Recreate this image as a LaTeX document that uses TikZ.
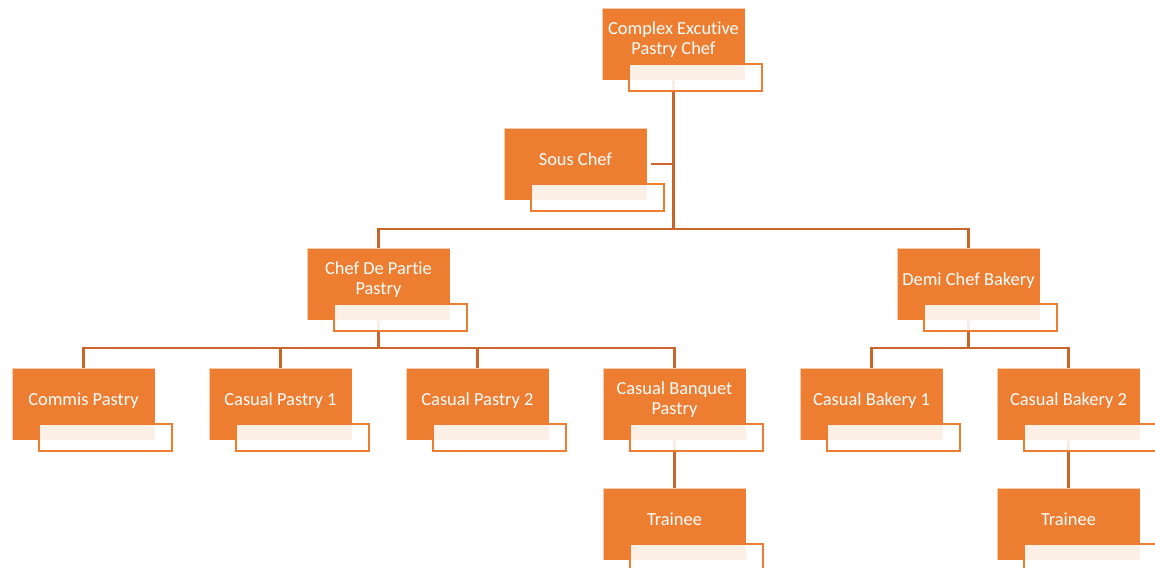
\documentclass[tikz,border=0pt]{standalone}
\usepackage{fontspec}
\setmainfont{Carlito}[Ligatures=NoCommon]
\usepackage{tikz}
\usetikzlibrary{positioning,backgrounds}

\definecolor{boxorange}{RGB}{237,125,49}
\definecolor{linkorange}{RGB}{200,101,42}

\newcommand{\namebox}[1]{\draw[namebox] ([xshift=20.25pt,yshift=12pt]#1.south west) rectangle ([xshift=120pt,yshift=-8.25pt]#1.south west);}

\begin{document}
\begin{tikzpicture}[
	post/.style = {draw=white, draw opacity=0.6, line width=0.5pt, fill=boxorange, shape=rectangle,
		minimum width=107.25pt, minimum height=54pt, inner sep=2pt, outer sep=0pt, align=center, text=white,
		font=\fontsize{13.8}{15}\selectfont,
		execute at begin node={\vrule height 11pt depth 0pt width 0pt},
		execute at end node={\vrule height 0pt depth 9.5pt width 0pt}},
	namebox/.style = {draw=boxorange, line width=1.6pt, fill=white, fill opacity=0.88},
	link/.style = {draw=linkorange, line width=1.7pt}
	]
	\useasboundingbox (0,0) rectangle (866.25pt,-425.25pt);
	\node [post] (top) at (505.1pt,-33pt) {Complex Excutive\\Pastry Chef};
	\node [post, below=36pt of top, xshift=-73.5pt] (sous) {Sous Chef};
	\node [post, below=36pt of sous, xshift=-147.75pt] (cdp) {Chef De Partie\\Pastry};
	\node [post, right=335.25pt of cdp] (demi) {Demi Chef Bakery};
	\node [post, below=36pt of cdp, xshift=-221.25pt] (cp) {Commis Pastry};
	\node [post, right=40.5pt of cp] (cp1) {Casual Pastry 1};
	\node [post, right=40.5pt of cp1] (cp2) {Casual Pastry 2};
	\node [post, right=40.5pt of cp2] (cbp) {Casual Banquet\\Pastry};
	\node [post, right=40.5pt of cbp] (cb1) {Casual Bakery 1};
	\node [post, right=40.5pt of cb1] (cb2) {Casual Bakery 2};
	\node [post, below=36pt of cbp] (tr1) {Trainee};
	\node [post, below=36pt of cb2] (tr2) {Trainee};
	% name boxes
	\foreach \n in {top,sous,cdp,demi,cp,cp1,cp2,cbp,cb1,cb2,tr1,tr2}
		{\namebox{\n}}
	% connectors
	\begin{scope}[on background layer]
		\draw[link] (top.south) |- ([yshift=14.25pt]cdp.north) -- (cdp.north);
		\draw[link] (top.south) |- ([yshift=14.25pt]demi.north) -- (demi.north);
		\draw[link] ([xshift=3pt]sous.east) -- (sous.east -| top.south);
		\foreach \c in {cp,cp1,cp2,cbp}
			\draw[link] (cdp.south) |- ([yshift=15pt]\c.north) -- (\c.north);
		\foreach \c in {cb1,cb2}
			\draw[link] (demi.south) |- ([yshift=15pt]\c.north) -- (\c.north);
		\draw[link] (cbp.south) -- (tr1.north);
		\draw[link] (cb2.south) -- (tr2.north);
	\end{scope}
\end{tikzpicture}
\end{document}
